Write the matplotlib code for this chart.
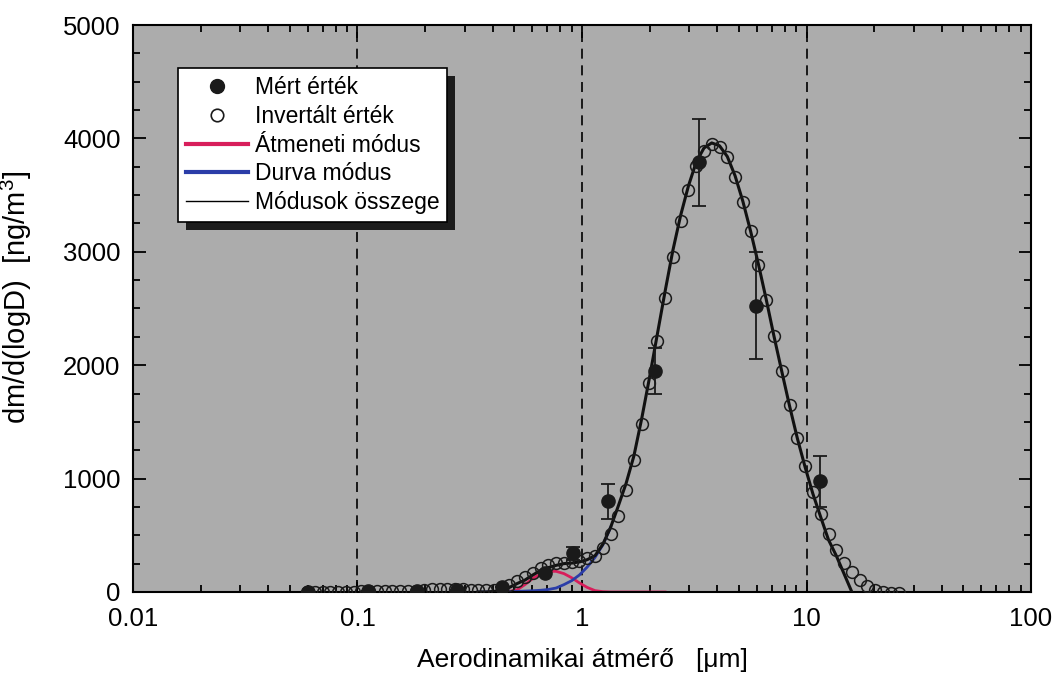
import numpy as np
import matplotlib
matplotlib.use('Agg')
import matplotlib.pyplot as plt
from matplotlib.ticker import MultipleLocator, FuncFormatter, LogLocator, NullFormatter
from matplotlib.patches import Rectangle
from matplotlib.lines import Line2D

plt.rcParams['font.family'] = ['Liberation Sans', 'DejaVu Sans']
plt.rcParams['mathtext.fontset'] = 'custom'
plt.rcParams['mathtext.rm'] = 'Liberation Sans'
plt.rcParams['mathtext.it'] = 'Liberation Sans'

# inverted distribution (open circles), D in um
inv_d = [0.0596, 0.0645, 0.0699, 0.0757, 0.0820, 0.0888, 0.0962, 0.104, 0.113, 0.122,
         0.132, 0.143, 0.155, 0.168, 0.182, 0.197, 0.214, 0.232, 0.251, 0.272,
         0.294, 0.319, 0.345, 0.374, 0.405, 0.439, 0.475, 0.515, 0.557, 0.604,
         0.654, 0.708, 0.767, 0.831, 0.900, 0.974, 1.055, 1.143, 1.238, 1.341,
         1.452, 1.573, 1.703, 1.845, 1.998, 2.164, 2.344, 2.538, 2.749, 2.978,
         3.225, 3.493, 3.783, 4.097, 4.438, 4.807, 5.206, 5.639, 6.107, 6.615,
         7.164, 7.760, 8.405, 9.103, 9.860, 10.68, 11.57, 12.53, 13.57, 14.70,
         15.92, 17.24, 18.67, 20.22, 21.90, 23.72, 25.69]
inv_val = [0, 0, 0, 0, 0, 0, 0, 5, 5, 5,
           5, 5, 5, 5, 10, 15, 25, 30, 30, 30,
           25, 20, 15, 15, 20, 35, 62, 99, 135, 170,
           209, 238, 253, 258, 261, 276, 297, 320, 385, 508,
           669, 898, 1162, 1485, 1842, 2212, 2591, 2952, 3275, 3545,
           3759, 3891, 3955, 3926, 3832, 3662, 3442, 3180, 2887, 2577,
           2254, 1948, 1646, 1362, 1112, 883, 687, 515, 370, 253,
           172, 106, 50, 18, 0, -5, -5]

# measured values with error bars
meas_d = [0.0602, 0.111, 0.184, 0.277, 0.440, 0.684, 0.914, 1.306, 2.11, 3.32, 5.96, 11.5]
meas_val = [0, 5, 5, 20, 45, 165, 340, 800, 1950, 3790, 2525, 975]
meas_err = [0, 0, 0, 0, 0, 0, 55, 155, 200, 385, 470, 225]

# fitted modes
red_d = inv_d[25:47]
red_val = [0, 5, 20, 65, 120, 158, 182, 182, 162, 125, 80, 40,
           12, 3, 0, 0, 0, 0, 0, 0, 0, 0]
blue_d = inv_d[22:40]
blue_val = [0, 0, 0, 1, 3, 5, 8, 11, 15, 22, 35, 65, 100, 150, 220, 305, 415, 570]
sum_d = inv_d[22:71]
sum_val = [0, 0, 5, 15, 40, 75, 105, 150, 190, 215, 235, 250, 255, 265, 285, 320,
           420, 570, 760, 960, 1200, 1530, 1890, 2270, 2650, 3010, 3320, 3580, 3790,
           3915, 3960, 3935, 3840, 3670, 3445, 3180, 2890, 2580, 2255, 1945, 1640,
           1355, 1100, 865, 660, 460, 320, 160, 0]

red_c = '#d81e5b'
blue_c = '#2b3da8'
dark = '#1a1a1a'

fig = plt.figure(figsize=(10.58, 6.85), dpi=100)
ax = fig.add_axes([0.1257, 0.1358, 0.8488, 0.8277])
ax.set_facecolor('#acacac')

for xv in [0.1, 1, 10]:
    ax.axvline(xv, color='k', ls=(0, (6, 4)), lw=1.2, zorder=1)

ax.plot(red_d, red_val, color=red_c, lw=2, zorder=2)
ax.plot(blue_d, blue_val, color=blue_c, lw=2, zorder=2)
ax.plot(sum_d, sum_val, color='#111111', lw=2.2, zorder=3)
ax.plot(inv_d, inv_val, 'o', ms=8.5, mfc='none', mec=dark, mew=1.1, zorder=4)
ax.errorbar(meas_d, meas_val, yerr=meas_err, fmt='o', ms=9.5, color=dark,
            ecolor=dark, elinewidth=1.3, capsize=5, capthick=1.3, zorder=5)

ax.set_xscale('log')
ax.set_xlim(0.01, 100)
ax.set_ylim(0, 5000)
ax.xaxis.set_major_formatter(FuncFormatter(lambda v, p: f'{v:g}'))
ax.xaxis.set_minor_locator(LogLocator(base=10, subs=np.arange(2, 10)))
ax.xaxis.set_minor_formatter(NullFormatter())
ax.yaxis.set_major_locator(MultipleLocator(1000))
ax.yaxis.set_minor_locator(MultipleLocator(250))
ax.tick_params(which='both', direction='in', top=True, right=True, width=1.3,
               labelsize=18.5)
ax.tick_params(which='major', length=9)
ax.tick_params(which='minor', length=5)
ax.tick_params(axis='y', pad=9)
ax.tick_params(axis='x', pad=11)
for s in ax.spines.values():
    s.set_linewidth(1.5)

ax.set_xlabel('Aerodinamikai átmérő   [μm]', fontsize=19, labelpad=12)
ax.set_ylabel(r'dm/d(logD)  [ng/m$^3$]', fontsize=21)
ax.yaxis.set_label_coords(-0.11, 0.52)

handles = [
    Line2D([], [], ls='none', marker='o', ms=10, color=dark),
    Line2D([], [], ls='none', marker='o', ms=9, mfc='white', mec=dark, mew=1.2),
    Line2D([], [], color=red_c, lw=3),
    Line2D([], [], color=blue_c, lw=3),
    Line2D([], [], color='k', lw=1),
]
labels = ['Mért érték', 'Invertált érték', 'Átmeneti módus', 'Durva módus',
          'Módusok összege']
leg = ax.legend(handles, labels, loc='upper left', bbox_to_anchor=(0.05, 0.924),
                borderaxespad=0, fontsize=16.5, numpoints=1, handlelength=2.7,
                handletextpad=0.3, labelspacing=0.25, borderpad=0.35,
                fancybox=False, framealpha=1, edgecolor='k')
leg.get_frame().set_linewidth(1.2)
leg.set_zorder(10)

fig.canvas.draw()
bb = leg.get_window_extent().transformed(ax.transAxes.inverted())
dx = 8 / (ax.bbox.width)
dy = 8 / (ax.bbox.height)
ax.add_patch(Rectangle((bb.x0 + dx, bb.y0 - dy), bb.width, bb.height,
                       transform=ax.transAxes, facecolor='#1c1c1c',
                       edgecolor='none', zorder=9, clip_on=False))

fig.savefig('out.png', dpi=100)
